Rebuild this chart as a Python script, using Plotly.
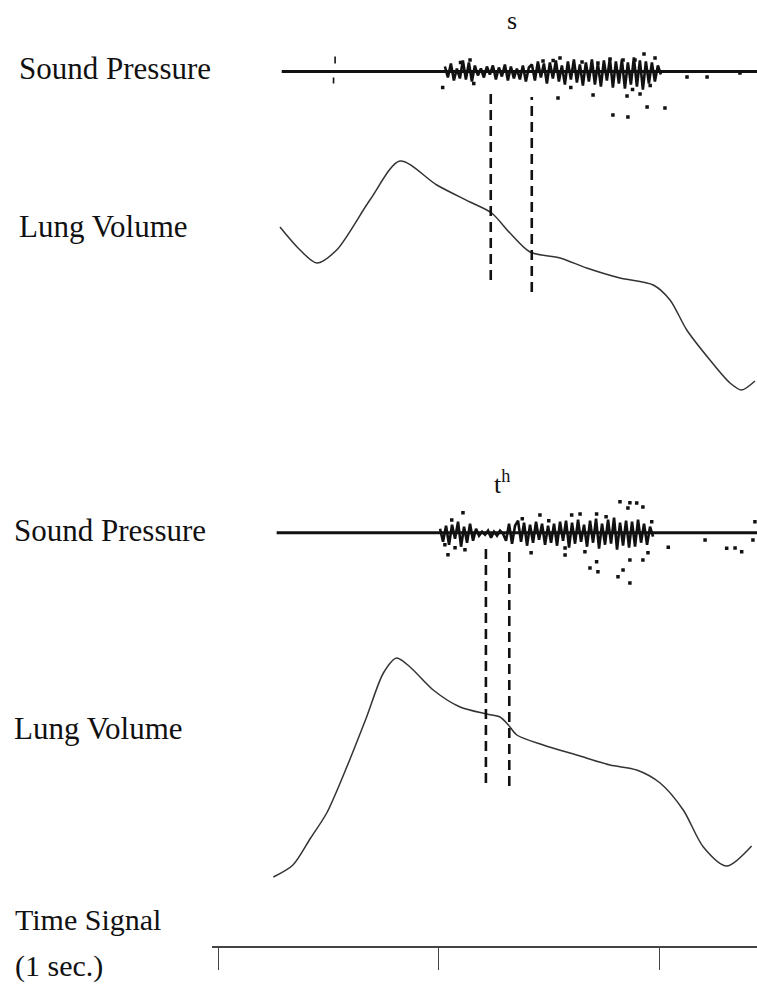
import numpy as np
import plotly.graph_objects as go

# ---------------- data ----------------
# time in seconds (ticks of time signal at 0, 1, 2 s)
lung1_t = [0.281, 0.372, 0.448, 0.538, 0.689, 0.825, 0.992, 1.143, 1.241, 1.324, 1.415,
           1.551, 1.672, 1.823, 1.974, 2.050, 2.126, 2.231, 2.322, 2.375, 2.435]
lung1_v = [193, 170, 157, 170, 220, 259, 235, 218, 207, 187, 168,
           162, 152, 142, 135, 120, 90, 60, 37, 30, 39]

lung2_t = [0.251, 0.340, 0.420, 0.493, 0.584, 0.674, 0.750, 0.810, 0.871, 0.976, 1.098,
           1.219, 1.279, 1.317, 1.355, 1.475, 1.627, 1.778, 1.899, 2.005, 2.110, 2.201,
           2.307, 2.420]
lung2_v = [23, 35, 62, 87, 133, 183, 227, 242, 233, 210, 193,
           186, 183, 175, 165, 155, 145, 135, 130, 117, 90, 53,
           34, 54]

# dashed segment markers: time, lower and upper lung-volume value
dash1_t = [1.237, 1.423]
dash1_lo = [140, 128]
dash1_hi = [328, 323]
dash2_t = [1.215, 1.321]
dash2_lo = [117, 114]
dash2_hi = [352, 350]

# sound pressure baselines (start, end time)
sp1_span = [0.289, 2.45]
sp2_span = [0.266, 2.45]

# sampled sound pressure bursts (uniform sampling)
sp1_t0, sp1_dt = 1.029, 0.013605
sp1_v = [5, -6, 8, -9, 3, -7,
         11, -8, 9, -10, 6, -4,
         3, -6, 5, -3, 6, -8, 4, -5, 7, -9, 5, -7, 3, -8, 6, -10, 4,
         7, -9, 10, -6, 8, -12, 9, -7, 11, -10, 6, -13, 10, -8, 12, -11, 7, -14, 9, -10,
         12, -13, 8,
         -15, 11, -9, 13, -16, 10, -12, 12, -17, 9, -13, 14, -15, 11, -18, 10, -12, 9,
         -10, 6, -3]
sp2_t0, sp2_dt = 1.007, 0.013605
sp2_v = [4, -9, 7, -12, 8, -6, 11, -14, 6, -10, 9, -8, 4,
         -3, 1, -2, 2, -5, 1, -3, 2, -1,
         -8, 9, -11, 7, 12, -9, 10, -13, 8, -10, 11, -7, 9, -12,
         7, -10, 9, -13, 11, -8, 12, -15, 10, -11, 13, -9, 8, -14, 12, -10, 14, -16, 9,
         -12, 13, -11, 15, -17, 10, -13, 12, -15, 11, -14, 13, -10, 9, -12, 6, -4]

# scattered sound-pressure points
sp1_dot_t = [1.019, 1.551, 1.651, 1.723, 1.778, 1.837, 1.891, 1.932, 1.143, 1.474, 1.982,
             1.542, 1.701, 1.855, 1.914, 1.946, 2.027, 1.791, 1.859, 2.127, 2.218, 2.367,
             1.100, 1.160, 1.520, 1.600, 1.880, 1.960]
sp1_dot_v = [-16, 13.5, 9.5, 8.5, 12.5, 11.5, 11.5, 17.5, 11.5, 10.5, 13.5,
             -26.5, -23.5, -24.5, -22.5, -35.5, -36.5, -43.5, -45.5, -5.5, -5.5, -1.5,
             9, -12, 11, -16, -18, -14]
click_t = [0.531, 0.531, None, 0.524, 0.524]
click_v = [8, 15, None, -6, -12]

sp2_dot_t = [1.060, 1.111, 1.029, 1.075, 1.043, 1.120, 1.823, 1.868, 1.899, 1.927, 1.859,
             1.604, 1.642, 1.717, 1.967, 1.460, 1.574, 1.574, 1.664, 1.717, 1.687, 1.723,
             1.868, 1.927, 1.837, 1.814, 1.868, 2.042, 2.209, 2.307, 2.345, 2.375, 2.426,
             2.435, 1.380, 1.420, 1.500, 1.760, 1.950]
sp2_dot_v = [12.7, 20, -12, -15, -22, -17, 31, 30, 29.7, 25.7, 24.7,
             17.7, 18.7, 18.7, 11, 17.7, -15.3, -22.3, -19, -29, -35.3, -39,
             -27.3, -27.3, -37.3, -44, -50.3, -14.6, -7.3, -15.6, -15.3, -19, -7.3,
             11, 14, -20, 12, 16, -20]

time_ticks = [0, 1, 2]

# ---------------- figure ----------------
W, H = 757, 993
FONT = "Liberation Serif"
INK = "#111111"

def dom(py_bottom, py_top):
    return [1 - py_bottom / H, 1 - py_top / H]

fig = go.Figure()

def dashed(ts, lo, hi, axis):
    xs, ys = [], []
    for t, a, b in zip(ts, lo, hi):
        xs += [t, t, None]
        ys += [a, b, None]
    fig.add_trace(go.Scatter(x=xs, y=ys, mode="lines", yaxis=axis,
                             line=dict(color=INK, width=2.6, dash="10px,6px")))

# top sound pressure
fig.add_trace(go.Scatter(x=sp1_span, y=[0, 0], mode="lines", yaxis="y",
                         line=dict(color=INK, width=3)))
sp1_t = sp1_t0 + sp1_dt * np.arange(len(sp1_v))
fig.add_trace(go.Scatter(x=sp1_t, y=sp1_v, mode="lines", yaxis="y",
                         line=dict(color=INK, width=2.6)))
fig.add_trace(go.Scatter(x=sp1_dot_t, y=sp1_dot_v, mode="markers", yaxis="y",
                         marker=dict(color=INK, size=3.5, symbol="square")))
fig.add_trace(go.Scatter(x=click_t, y=click_v, mode="lines", yaxis="y",
                         line=dict(color=INK, width=1.6)))

# top lung volume
fig.add_trace(go.Scatter(x=lung1_t, y=lung1_v, mode="lines", yaxis="y2",
                         line=dict(color="#333333", width=1.5, shape="spline", smoothing=0.8)))
dashed(dash1_t, dash1_lo, dash1_hi, "y2")

# bottom sound pressure
fig.add_trace(go.Scatter(x=sp2_span, y=[0, 0], mode="lines", yaxis="y3",
                         line=dict(color=INK, width=3)))
sp2_t = sp2_t0 + sp2_dt * np.arange(len(sp2_v))
fig.add_trace(go.Scatter(x=sp2_t, y=sp2_v, mode="lines", yaxis="y3",
                         line=dict(color=INK, width=2.6)))
fig.add_trace(go.Scatter(x=sp2_dot_t, y=sp2_dot_v, mode="markers", yaxis="y3",
                         marker=dict(color=INK, size=3.5, symbol="square")))

# bottom lung volume
fig.add_trace(go.Scatter(x=lung2_t, y=lung2_v, mode="lines", yaxis="y4",
                         line=dict(color="#333333", width=1.5, shape="spline", smoothing=0.8)))
dashed(dash2_t, dash2_lo, dash2_hi, "y4")

# time signal axis (invisible anchor trace so the subplot is drawn)
fig.add_trace(go.Scatter(x=time_ticks, y=[0, 0, 0], mode="markers", xaxis="x2", yaxis="y5",
                         marker=dict(opacity=0), hoverinfo="skip"))

xr = [-218 / 220.5, (W - 218) / 220.5]
hidden = dict(visible=False, fixedrange=True)

fig.update_layout(
    width=W, height=H,
    margin=dict(l=0, r=0, t=0, b=0),
    paper_bgcolor="white", plot_bgcolor="rgba(0,0,0,0)",
    showlegend=False,
    xaxis=dict(range=xr, domain=[0, 1], **hidden),
    yaxis=dict(range=[-50, 50], domain=dom(121.5, 21.5), **hidden),
    yaxis2=dict(range=[0, 340], domain=dom(420, 80), **hidden),
    yaxis3=dict(range=[-55, 55], domain=dom(587.7, 477.7), **hidden),
    yaxis4=dict(range=[0, 370], domain=dom(900, 530), **hidden),
    xaxis2=dict(range=[(212 - 218) / 220.5, (W - 218) / 220.5], domain=[212 / W, 1],
                anchor="y5", showline=True, linecolor="#444444", linewidth=2,
                ticks="outside", ticklen=22, tickwidth=1.3, tickcolor="#444444",
                tickvals=time_ticks, showticklabels=False, showgrid=False,
                zeroline=False, fixedrange=True),
    yaxis5=dict(domain=dom(946, 930), anchor="x2", range=[0, 1], **hidden),
)

def label(text, px, py, size=30, xanchor="left"):
    fig.add_annotation(text=text, x=px / W, y=1 - py / H, xref="paper", yref="paper",
                       xanchor=xanchor, yanchor="middle", showarrow=False,
                       font=dict(family=FONT, size=size, color=INK))

label("Sound Pressure", 17, 69, size=31)
label("Lung Volume", 17, 226, size=31)
label("Sound Pressure", 12, 530, size=31)
label("Lung Volume", 12, 728, size=31)
label("Time Signal", 13, 919)
label("(1 sec.)", 13, 966)
label("s", 512, 20, size=26, xanchor="center")
label("t<sup>h</sup>", 502, 482, size=26, xanchor="center")

fig.write_html("out.html", config={"displayModeBar": False},
               post_script="document.body.style.margin='0';")
